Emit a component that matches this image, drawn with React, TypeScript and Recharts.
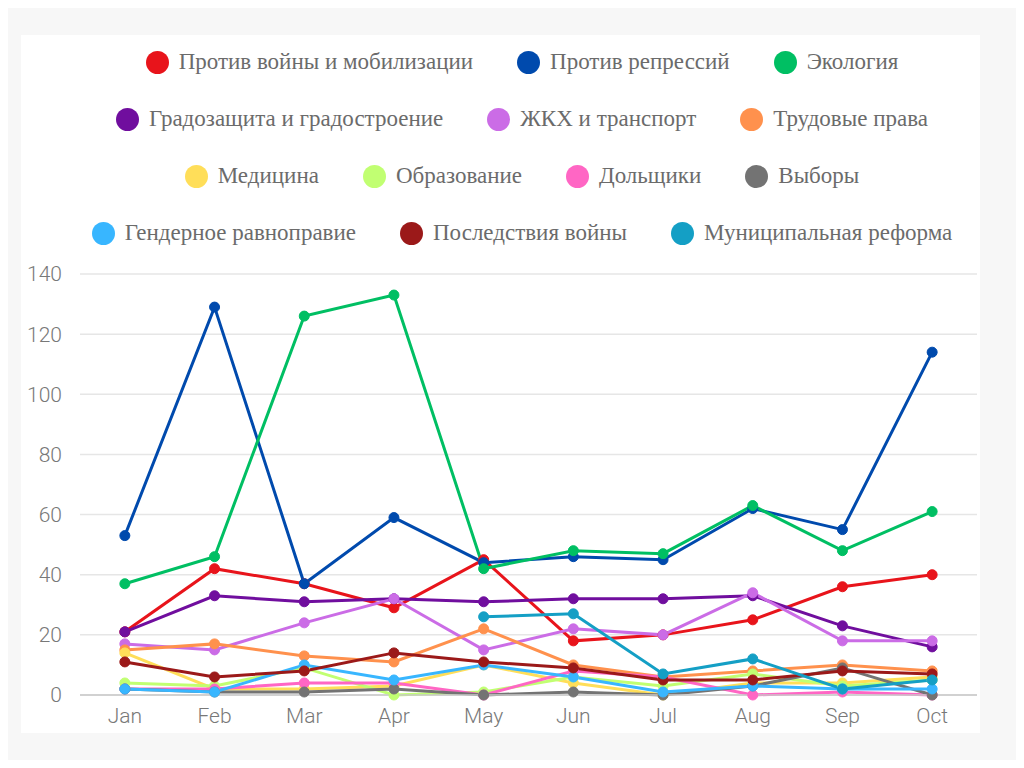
import React from 'react';
import { LineChart, Line, XAxis, YAxis, CartesianGrid } from 'recharts';

const months = ['Jan', 'Feb', 'Mar', 'Apr', 'May', 'Jun', 'Jul', 'Aug', 'Sep', 'Oct'];
const yTicks = [0, 20, 40, 60, 80, 100, 120, 140];

const antiWar = [21, 42, 37, 29, 45, 18, 20, 25, 36, 40];
const antiRepression = [53, 129, 37, 59, 44, 46, 45, 62, 55, 114];
const ecology = [37, 46, 126, 133, 42, 48, 47, 63, 48, 61];
const urbanism = [21, 33, 31, 32, 31, 32, 32, 33, 23, 16];
const housing = [17, 15, 24, 32, 15, 22, 20, 34, 18, 18];
const labour = [15, 17, 13, 11, 22, 10, 6, 8, 10, 8];
const medicine = [14, 2, 2, 3, 10, 4, 0, 4, 4, 6];
const education = [4, 3, 9, 0, 1, 6, 3, 7, 3, 5];
const shareholders = [2, 2, 4, 4, 0, 8, 6, 0, 1, 0];
const elections = [2, 1, 1, 2, 0, 1, 0, 3, 9, 0];
const gender = [2, 1, 10, 5, 10, 6, 1, 3, 2, 2];
const warAftermath = [11, 6, 8, 14, 11, 9, 5, 5, 8, 7];
const municipal = [null, null, null, null, 26, 27, 7, 12, 2, 5];

const series = [
  { key: 'antiWar', name: 'Против войны и мобилизации', color: '#e8141b', values: antiWar },
  { key: 'antiRepression', name: 'Против репрессий', color: '#004aad', values: antiRepression },
  { key: 'ecology', name: 'Экология', color: '#00bf63', values: ecology },
  { key: 'urbanism', name: 'Градозащита и градостроение', color: '#700e9e', values: urbanism },
  { key: 'housing', name: 'ЖКХ и транспорт', color: '#cb6ce6', values: housing },
  { key: 'labour', name: 'Трудовые права', color: '#ff914d', values: labour },
  { key: 'medicine', name: 'Медицина', color: '#ffde59', values: medicine },
  { key: 'education', name: 'Образование', color: '#c1ff72', values: education },
  { key: 'shareholders', name: 'Дольщики', color: '#ff66c4', values: shareholders },
  { key: 'elections', name: 'Выборы', color: '#737373', values: elections },
  { key: 'gender', name: 'Гендерное равноправие', color: '#38b6ff', values: gender },
  { key: 'warAftermath', name: 'Последствия войны', color: '#9b1919', values: warAftermath },
  { key: 'municipal', name: 'Муниципальная реформа', color: '#149fc5', values: municipal },
];

const data = months.map((m, i) => {
  const row: any = { month: m };
  series.forEach((s) => {
    row[s.key] = s.values[i];
  });
  return row;
});

const tickStyle = { fill: '#787878', fontSize: 21, fontFamily: 'Roboto', fontWeight: 300 };

function LegendBlock() {
  return (
    <div
      style={{
        position: 'absolute',
        top: 10,
        left: 61,
        width: 880,
        display: 'flex',
        flexWrap: 'wrap',
        justifyContent: 'center',
        rowGap: 23,
        columnGap: 44,
        fontFamily: '"Liberation Serif", serif',
        fontSize: 23,
        color: '#6b6b6b',
      }}
    >
      {series.map((s) => (
        <div key={s.key} style={{ display: 'flex', alignItems: 'center', height: 34 }}>
          <span
            style={{
              width: 23,
              height: 23,
              borderRadius: '50%',
              background: s.color,
              marginRight: 10,
              display: 'inline-block',
            }}
          />
          <span style={{ whiteSpace: 'nowrap' }}>{s.name}</span>
        </div>
      ))}
    </div>
  );
}

export default function App() {
  return (
    <div style={{ margin: -8, width: 1024, height: 768, background: '#f7f7f7', position: 'relative' }}>
      <div
        style={{
          position: 'absolute',
          left: 21,
          top: 35,
          width: 959,
          height: 698,
          background: '#ffffff',
        }}
      >
        <LegendBlock />
        <div style={{ position: 'absolute', left: 0, top: 0 }}>
          <LineChart width={959} height={698} data={data} margin={{ top: 239, right: 3, left: 0, bottom: 8 }}>
            <CartesianGrid vertical={false} stroke="#e6e6e6" strokeWidth={1.5} />
            <XAxis
              dataKey="month"
              scale="band"
              axisLine={{ stroke: '#c8c8c8', strokeWidth: 1.5 }}
              tickLine={false}
              tickMargin={7}
              tick={tickStyle}
            />
            <YAxis
              domain={[0, 140]}
              ticks={yTicks}
              width={59}
              axisLine={false}
              tickLine={false}
              tickMargin={12}
              tick={tickStyle}
            />
            {series.map((s) => (
              <Line
                key={s.key}
                type="linear"
                dataKey={s.key}
                name={s.name}
                stroke={s.color}
                strokeWidth={3}
                dot={{ r: 5, fill: s.color, stroke: s.color, strokeWidth: 1 }}
                activeDot={false}
                connectNulls={false}
                isAnimationActive={false}
              />
            ))}
          </LineChart>
        </div>
      </div>
    </div>
  );
}
